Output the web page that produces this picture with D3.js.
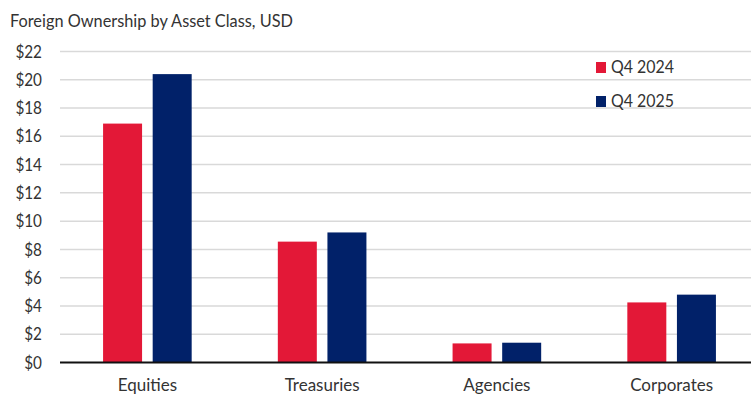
<!DOCTYPE html>
<html>
<head>
<meta charset="utf-8">
<script src="https://cdn.jsdelivr.net/npm/d3@7"></script>
<style>
  html, body { margin: 0; padding: 0; background: #fff; }
  svg { display: block; }
  text { font-family: 'Lato', sans-serif; font-weight: 400; fill: #333; }
</style>
</head>
<body>
<div id="chart"></div>
<script>
// Data (USD trillions)
const categories = ['Equities', 'Treasuries', 'Agencies', 'Corporates'];
const seriesNames = ['Q4 2024', 'Q4 2025'];
const q4_2024 = [16.9, 8.55, 1.35, 4.25];
const q4_2025 = [20.4, 9.2, 1.4, 4.8];
const yTicks = [0, 2, 4, 6, 8, 10, 12, 14, 16, 18, 20, 22];

const colors = { 'Q4 2024': '#e31837', 'Q4 2025': '#012169' };

const width = 751, height = 396;
const svg = d3.select('#chart').append('svg')
    .attr('width', width)
    .attr('height', height);

// Title (reference font is condensed, so squeeze Lato to the same width)
svg.append('text')
    .attr('x', 10)
    .attr('y', 27)
    .attr('textLength', 283)
    .attr('lengthAdjust', 'spacingAndGlyphs')
    .style('font-size', '18px')
    .text('Foreign Ownership by Asset Class, USD');

// Scales
const y = d3.scaleLinear().domain([0, 22]).range([362.5, 51.5]);
const x0 = d3.scaleBand().domain(categories).range([60, 759]);
const groupW = 88.6;
const x1 = d3.scaleBand().domain(seriesNames)
    .range([x0.bandwidth() / 2 - groupW / 2, x0.bandwidth() / 2 + groupW / 2])
    .paddingInner(0.214);

// Grid lines
svg.append('g')
    .selectAll('line')
    .data(yTicks.filter(d => d > 0))
    .join('line')
    .attr('x1', 60)
    .attr('x2', width)
    .attr('y1', d => y(d))
    .attr('y2', d => y(d))
    .attr('stroke', '#d9d9d9')
    .attr('stroke-width', 1.5);

// Y axis labels
svg.append('g')
    .selectAll('text')
    .data(yTicks)
    .join('text')
    .attr('x', 42)
    .attr('y', d => y(d))
    .attr('dy', '0.36em')
    .attr('text-anchor', 'end')
    .attr('transform', d => `translate(${42 * 0.1},0) scale(0.9,1)`)
    .style('font-size', '17px')
    .text(d => '$' + d);

// Bars
const rows = categories.map((c, i) => ({ cat: c, vals: [
    { name: seriesNames[0], v: q4_2024[i] },
    { name: seriesNames[1], v: q4_2025[i] }
] }));

svg.append('g')
    .selectAll('g')
    .data(rows)
    .join('g')
    .attr('transform', d => `translate(${x0(d.cat)},0)`)
    .selectAll('rect')
    .data(d => d.vals)
    .join('rect')
    .attr('x', d => x1(d.name))
    .attr('width', x1.bandwidth())
    .attr('y', d => y(d.v))
    .attr('height', d => y(0) - y(d.v))
    .attr('fill', d => colors[d.name]);

// Baseline
svg.append('line')
    .attr('x1', 60)
    .attr('x2', width)
    .attr('y1', y(0))
    .attr('y2', y(0))
    .attr('stroke', '#111')
    .attr('stroke-width', 2);

// Category labels
svg.append('g')
    .selectAll('text')
    .data(categories)
    .join('text')
    .attr('x', d => x0(d) + x0.bandwidth() / 2)
    .attr('y', 391)
    .attr('text-anchor', 'middle')
    .style('font-size', '17px')
    .text(d => d);

// Legend
const legend = svg.append('g')
    .selectAll('g')
    .data(seriesNames)
    .join('g')
    .attr('transform', (d, i) => `translate(596,${62 + i * 34})`);

legend.append('rect')
    .attr('width', 10)
    .attr('height', 11)
    .attr('fill', d => colors[d]);

legend.append('text')
    .attr('x', 15)
    .attr('y', 11)
    .attr('textLength', 63)
    .attr('lengthAdjust', 'spacingAndGlyphs')
    .style('font-size', '18px')
    .text(d => d);
</script>
</body>
</html>
